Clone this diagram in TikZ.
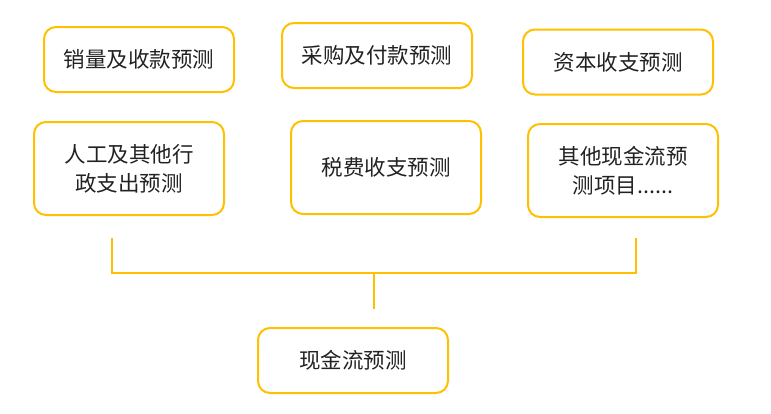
\documentclass[tikz,border=0pt]{standalone}
\usepackage{fontspec}
\setmainfont{Noto Sans CJK SC}
\usetikzlibrary{positioning,calc}
\definecolor{yuorange}{HTML}{FFC000}
\definecolor{yutext}{HTML}{222222}

\tikzset{
  yubox/.style={draw=yuorange, line width=2pt, rounded corners=12pt,
    minimum width=190pt, minimum height=65pt, align=center,
    text=yutext, font=\fontsize{21.5}{29}\selectfont},
  tallbox/.style={yubox, minimum height=93pt},
  yuline/.style={draw=yuorange, line width=2pt}
}

\begin{document}
\begin{tikzpicture}[x=1pt,y=-1pt]
  \useasboundingbox (0,0) rectangle (771,413);
  % top row
  \node[yubox] (xiaoliang) at (139,59.5) {销量及收款预测};
  \node[yubox] (caigou) at (377,55.5) {采购及付款预测};
  \node[yubox] (ziben) at (618,62) {资本收支预测};
  % second row
  \node[tallbox] (rengong) at (129,168.5) {人工及其他行\\政支出预测};
  \node[tallbox] (shuifei) at (386,167.5) {税费收支预测};
  \node[tallbox] (qita) at (623,170.5) {其他现金流预\\测项目......};
  % result
  \node[yubox] (xianjin) at (353,360.5) {现金流预测};
  % bracket
  \coordinate (zuo) at (112,238);
  \coordinate (you) at (636,238);
  \coordinate (zuoxia) at (112,273);
  \coordinate (youxia) at (636,273);
  \coordinate (zhong) at (374,273);
  \coordinate (zhongxia) at (374,309);
  \draw[yuline] (zuo) -- (zuoxia) -- (youxia) -- (you);
  \draw[yuline] (zhong) -- (zhongxia);
\end{tikzpicture}
\end{document}
